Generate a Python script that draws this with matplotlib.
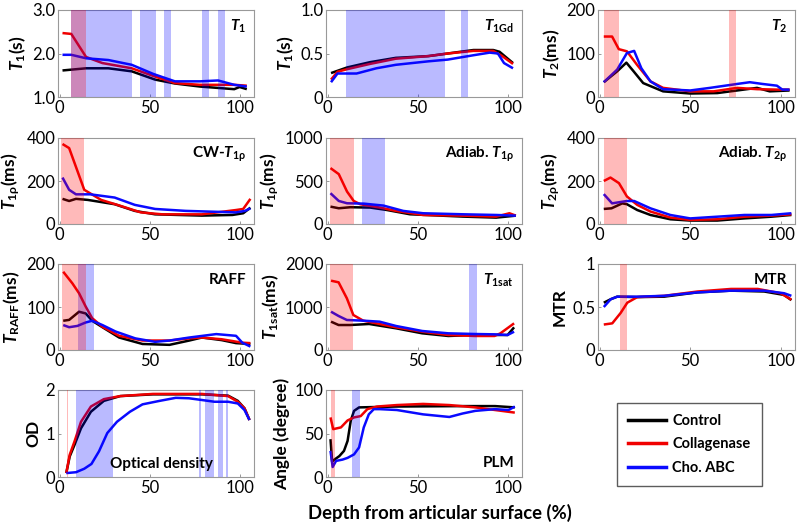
import matplotlib
matplotlib.use("Agg")
import matplotlib.pyplot as plt
from matplotlib.lines import Line2D

plt.rcParams['font.family'] = ['Lato', 'DejaVu Sans']
plt.rcParams['mathtext.fontset'] = 'custom'
plt.rcParams['mathtext.it'] = 'Lato:italic:bold'
plt.rcParams['mathtext.rm'] = 'Lato:bold'
plt.rcParams['mathtext.bf'] = 'Lato:bold'

SERIES = ["Control", "Collagenase", "Cho. ABC"]
COLORS = ["black", "#f00000", "#0a0aff"]

# ---------------- T1 ----------------
T1_CTRL_X = [1.5, 14.6, 27, 40, 53, 64, 78, 97, 100, 104]
T1_CTRL_Y = [1.61, 1.66, 1.66, 1.59, 1.40, 1.31, 1.24, 1.18, 1.23, 1.18]
T1_COLL_X = [1.5, 6.4, 14.6, 23.7, 40, 53, 64, 78, 97, 104]
T1_COLL_Y = [2.47, 2.45, 1.92, 1.78, 1.66, 1.47, 1.32, 1.28, 1.28, 1.26]
T1_CHO_X = [1.5, 6.4, 14.6, 27, 40, 52, 64, 78, 88, 97, 104]
T1_CHO_Y = [1.97, 1.97, 1.89, 1.85, 1.74, 1.53, 1.36, 1.36, 1.38, 1.28, 1.24]
T1_BLUE = [(6.4, 40.1), (44.7, 53.3), (57.8, 61.7), (79.2, 83.2), (88, 91.8)]
T1_RED = [(6.4, 14.6)]

# ---------------- T1Gd ----------------
T1GD_CTRL_X = [1.8, 10.8, 23.4, 37.8, 55.9, 66.7, 81, 92, 95.5, 103]
T1GD_CTRL_Y = [0.275, 0.34, 0.40, 0.45, 0.47, 0.50, 0.54, 0.54, 0.52, 0.39]
T1GD_COLL_X = [1.8, 5.4, 10.8, 23.4, 37.8, 55.9, 66.7, 81, 92, 97, 103]
T1GD_COLL_Y = [0.20, 0.29, 0.32, 0.38, 0.44, 0.47, 0.50, 0.53, 0.53, 0.47, 0.38]
T1GD_CHO_X = [1.8, 5.4, 16, 27, 37.8, 55.9, 66.7, 81, 90, 94.6, 98, 103]
T1GD_CHO_Y = [0.17, 0.27, 0.27, 0.33, 0.37, 0.41, 0.43, 0.48, 0.51, 0.50, 0.39, 0.33]
T1GD_BLUE = [(10.3, 65.2), (73.9, 77.8)]
T1GD_RED = []

# ---------------- T2 ----------------
T2_CTRL_X = [2.2, 9.6, 14.7, 18.7, 24, 35, 50, 65, 76, 87, 94, 105]
T2_CTRL_Y = [34, 59, 79, 59, 32, 13, 8, 9, 15, 21, 13, 15]
T2_COLL_X = [2.2, 6.8, 10.5, 15, 20.6, 28, 35, 50, 63, 76, 87, 98, 105]
T2_COLL_Y = [139, 139, 110, 105, 74, 36, 21, 13, 13, 21, 18, 17, 17]
T2_CHO_X = [2.2, 9.6, 15, 19, 23, 28, 35, 50, 61, 76, 83, 90, 98, 101, 105]
T2_CHO_Y = [34, 63, 101, 106, 66, 36, 18, 15, 21, 30, 34, 30, 26, 17, 17]
T2_BLUE = []
T2_RED = [(2.2, 10.5), (71.3, 75.4)]

# ---------------- CW-T1rho ----------------
CW_CTRL_X = [1.5, 5.2, 9, 15.6, 30.5, 41.7, 53, 79, 96, 102, 106]
CW_CTRL_Y = [117, 107, 117, 112, 92, 61, 45, 39, 42, 50, 76]
CW_COLL_X = [1.5, 5.2, 13.6, 23, 32, 45, 57, 79, 98, 102, 106]
CW_COLL_Y = [372, 353, 159, 112, 89, 54, 45, 45, 65, 70, 117]
CW_CHO_X = [1.5, 5.2, 9, 17, 30.5, 41.7, 53, 70, 98, 103, 106]
CW_CHO_Y = [216, 159, 138, 138, 123, 89, 70, 61, 54, 61, 73]
CW_BLUE = []
CW_RED = [(0.5, 13.3)]

# ---------------- Adiab. T1rho ----------------
AT1_CTRL_X = [1.5, 6.1, 12.5, 23.6, 32.8, 45.7, 75, 93.6, 104.6]
AT1_CTRL_Y = [202, 183, 195, 191, 163, 113, 86, 74, 97]
AT1_COLL_X = [1.5, 6.1, 10.7, 14.4, 18, 29, 38, 53, 75, 93.6, 101, 104.6]
AT1_COLL_Y = [650, 580, 377, 268, 230, 191, 152, 105, 97, 86, 125, 97]
AT1_CHO_X = [1.5, 6.1, 10.7, 20, 31, 42, 53, 75, 93.6, 104.6]
AT1_CHO_Y = [358, 268, 241, 237, 214, 152, 125, 113, 105, 97]
AT1_BLUE = [(19, 32)]
AT1_RED = [(1.5, 14.4)]

# ---------------- Adiab. T2rho ----------------
AT2_CTRL_X = [2.2, 6.5, 12.4, 15, 20.7, 28, 39, 50, 65, 80, 95, 106]
AT2_CTRL_Y = [70, 73, 96, 92, 65, 42, 22, 16, 16, 26, 34, 42]
AT2_COLL_X = [2.2, 5.9, 10.6, 15, 20.7, 28, 39, 50, 65, 80, 95, 106]
AT2_COLL_Y = [200, 216, 190, 128, 89, 58, 30, 19, 22, 34, 39, 45]
AT2_CHO_X = [2.2, 6.8, 15, 19, 28, 39, 50, 65, 80, 95, 106]
AT2_CHO_Y = [139, 96, 107, 107, 73, 42, 26, 34, 42, 42, 50]
AT2_BLUE = []
AT2_RED = [(2.2, 14.8)]

# ---------------- RAFF ----------------
RAFF_CTRL_X = [1.9, 5.2, 10.7, 14.4, 18, 23.7, 33, 46, 61, 72, 79, 90, 98, 106]
RAFF_CTRL_Y = [68, 70, 89, 85, 68, 53, 29, 14, 12, 22, 29, 23, 16, 14]
RAFF_COLL_X = [1.9, 7, 10.7, 14.4, 18, 23.7, 33, 46, 61, 72, 79, 90, 101.5, 106]
RAFF_COLL_Y = [182, 155, 132, 101, 74, 54, 33, 22, 22, 27, 29, 25, 17, 16]
RAFF_CHO_X = [1.9, 5.2, 9.8, 14.4, 18, 23.7, 31, 42, 53, 61, 72, 87, 98, 101.5, 106]
RAFF_CHO_Y = [58, 53, 56, 64, 68, 58, 43, 27, 19, 22, 29, 37, 33, 17, 8]
RAFF_BLUE = [(10.4, 19)]
RAFF_RED = [(1.5, 14.4)]

# ---------------- T1sat ----------------
T1S_CTRL_X = [1.8, 6, 12.4, 23, 38, 52.5, 67, 81.8, 92.7, 100, 103.6]
T1S_CTRL_Y = [659, 581, 581, 605, 504, 388, 326, 349, 349, 349, 527]
T1S_COLL_X = [1.8, 6, 10.6, 14.2, 19.7, 28.8, 38, 52.5, 67, 81.8, 92.7, 96, 103.6]
T1S_COLL_Y = [1612, 1574, 1202, 814, 682, 605, 527, 426, 349, 326, 326, 388, 620]
T1S_CHO_X = [1.8, 6, 10.6, 19.7, 28.8, 38, 52.5, 67, 81.8, 92.7, 100, 103.6]
T1S_CHO_Y = [891, 791, 698, 682, 659, 558, 442, 388, 372, 364, 349, 426]
T1S_BLUE = [(78.6, 82.7)]
T1S_RED = [(1.5, 14.2)]

# ---------------- MTR ----------------
MTR_CTRL_X = [2.2, 6, 9.6, 20.7, 35.6, 54, 72.6, 91, 102, 106]
MTR_CTRL_Y = [0.55, 0.59, 0.62, 0.615, 0.62, 0.67, 0.69, 0.68, 0.64, 0.58]
MTR_COLL_X = [2.2, 6.9, 11.5, 15.2, 20.7, 35.6, 54, 72.6, 87.4, 100, 106]
MTR_COLL_Y = [0.296, 0.31, 0.43, 0.55, 0.615, 0.63, 0.68, 0.71, 0.71, 0.66, 0.585]
MTR_CHO_X = [2.2, 6, 9.6, 20.7, 35.6, 54, 72.6, 91, 102, 106]
MTR_CHO_Y = [0.50, 0.59, 0.62, 0.62, 0.63, 0.67, 0.69, 0.69, 0.66, 0.63]
MTR_BLUE = []
MTR_RED = [(10.9, 14.8)]

# ---------------- OD ----------------
OD_CTRL_X = [3.6, 5.5, 8.2, 11.8, 17.3, 24.5, 33.6, 51.8, 79, 93.6, 99, 102.7, 105.5]
OD_CTRL_Y = [0.09, 0.47, 0.74, 1.12, 1.50, 1.75, 1.86, 1.90, 1.90, 1.87, 1.75, 1.58, 1.31]
OD_COLL_X = [3.6, 5.5, 8.2, 11.8, 17.3, 24.5, 33.6, 51.8, 79, 93.6, 99, 102.7, 105.5]
OD_COLL_Y = [0.09, 0.51, 0.82, 1.27, 1.62, 1.79, 1.86, 1.91, 1.91, 1.86, 1.73, 1.58, 1.31]
OD_CHO_X = [3.6, 9, 13.6, 17.6, 21.8, 26.4, 31.8, 39, 46, 55.5, 64.5, 71.8, 79, 86, 93.6, 99, 102.7, 105.5]
OD_CHO_Y = [0.09, 0.11, 0.19, 0.30, 0.59, 1.01, 1.27, 1.50, 1.67, 1.75, 1.82, 1.81, 1.77, 1.73, 1.73, 1.69, 1.54, 1.31]
OD_BLUE = [(9, 29.5), (77.6, 78.4), (80.5, 85.8), (87.8, 90.5), (92.4, 93.8)]
OD_RED = [(4.0, 4.5)]

# ---------------- PLM ----------------
PLM_CTRL_X = [1.5, 2.4, 3.7, 6.4, 9, 11, 12.8, 14.6, 17.4, 38.4, 75, 93, 104]
PLM_CTRL_Y = [43.5, 17.7, 20, 24, 30, 41.5, 65, 76, 80, 81, 81.5, 81.5, 80]
PLM_COLL_X = [1.5, 3, 7.3, 11, 14.6, 18.3, 22, 27.4, 38.4, 53, 67.6, 82, 93, 104]
PLM_COLL_Y = [68.5, 55, 57, 65, 68.5, 70, 78, 81, 82.7, 84, 82.7, 80, 77, 74]
PLM_CHO_X = [1.5, 2.7, 4.6, 8.2, 11, 14.6, 17.4, 20, 22.8, 25.6, 29, 38.4, 53, 67.6, 75, 82, 93, 100.5, 104]
PLM_CHO_Y = [30, 11.5, 18.5, 20, 22, 26, 34, 57, 72, 78, 78, 77, 72, 69, 73, 76, 78, 77, 81]
PLM_BLUE = [(13.7, 17.9)]
PLM_RED = [(1.8, 4.2)]

X_TICKS = [0, 50, 100]

W, H = 800, 527
fig = plt.figure(figsize=(W / 100, H / 100), dpi=100)

COLS = [(58, 254), (326, 522), (598, 795)]
ROWS = [(10, 97), (138, 224), (264, 350), (390, 477)]


def make_ax(r, c):
    l, rr = COLS[c]
    t, b = ROWS[r]
    return fig.add_axes([l / W, 1 - b / H, (rr - l) / W, (b - t) / H])


def panel(r, c, xs, ys, blue, red, ylim, yticks, yticklabels, ylabel, title,
          tpos=(0.96, 0.81), tha='right'):
    ax = make_ax(r, c)
    for x, y, col in zip(xs, ys, COLORS):
        ax.plot(x, y, color=col, lw=1.8, zorder=2, solid_capstyle='butt')
    for a, b in blue:
        ax.axvspan(a, b, color='#0000ff', alpha=0.27, lw=0, zorder=3)
    for a, b in red:
        ax.axvspan(a, b, color='#ff0000', alpha=0.27, lw=0, zorder=3)
    ax.set_xlim(-1, 108)
    ax.set_ylim(*ylim)
    ax.set_xticks(X_TICKS)
    ax.set_xticklabels([str(v) for v in X_TICKS])
    ax.set_yticks(yticks)
    ax.set_yticklabels(yticklabels)
    ax.tick_params(direction='in', length=2.5, width=0.6, color='#888888',
                   labelsize=12, pad=2, top=False, right=False)
    for s in ax.spines.values():
        s.set_color('#999999')
        s.set_linewidth(0.8)
    ax.set_ylabel(ylabel, fontsize=12.5, fontweight='bold', labelpad=3)
    ax.text(tpos[0], tpos[1], title, transform=ax.transAxes, ha=tha, va='center',
            fontsize=11, fontweight='bold', zorder=5)
    return ax


panel(0, 0, [T1_CTRL_X, T1_COLL_X, T1_CHO_X], [T1_CTRL_Y, T1_COLL_Y, T1_CHO_Y],
      T1_BLUE, T1_RED, (1.0, 3.0), [1.0, 2.0, 3.0], ['1.0', '2.0', '3.0'],
      r'$T_{\mathrm{1}}$(s)', r'$T_{\mathrm{1}}$')
panel(0, 1, [T1GD_CTRL_X, T1GD_COLL_X, T1GD_CHO_X], [T1GD_CTRL_Y, T1GD_COLL_Y, T1GD_CHO_Y],
      T1GD_BLUE, T1GD_RED, (0, 1.0), [0, 0.5, 1.0], ['0', '0.5', '1.0'],
      r'$T_{\mathrm{1}}$(s)', r'$T_{\mathrm{1Gd}}$')
panel(0, 2, [T2_CTRL_X, T2_COLL_X, T2_CHO_X], [T2_CTRL_Y, T2_COLL_Y, T2_CHO_Y],
      T2_BLUE, T2_RED, (0, 200), [0, 100, 200], ['0', '100', '200'],
      r'$T_{\mathrm{2}}$(ms)', r'$T_{\mathrm{2}}$')
panel(1, 0, [CW_CTRL_X, CW_COLL_X, CW_CHO_X], [CW_CTRL_Y, CW_COLL_Y, CW_CHO_Y],
      CW_BLUE, CW_RED, (0, 400), [0, 200, 400], ['0', '200', '400'],
      r'$T_{\mathrm{1\rho}}$(ms)', r'CW-$T_{\mathrm{1\rho}}$')
panel(1, 1, [AT1_CTRL_X, AT1_COLL_X, AT1_CHO_X], [AT1_CTRL_Y, AT1_COLL_Y, AT1_CHO_Y],
      AT1_BLUE, AT1_RED, (0, 1000), [0, 500, 1000], ['0', '500', '1000'],
      r'$T_{\mathrm{1\rho}}$(ms)', r'Adiab. $T_{\mathrm{1\rho}}$')
panel(1, 2, [AT2_CTRL_X, AT2_COLL_X, AT2_CHO_X], [AT2_CTRL_Y, AT2_COLL_Y, AT2_CHO_Y],
      AT2_BLUE, AT2_RED, (0, 400), [0, 200, 400], ['0', '200', '400'],
      r'$T_{\mathrm{2\rho}}$(ms)', r'Adiab. $T_{\mathrm{2\rho}}$')
panel(2, 0, [RAFF_CTRL_X, RAFF_COLL_X, RAFF_CHO_X], [RAFF_CTRL_Y, RAFF_COLL_Y, RAFF_CHO_Y],
      RAFF_BLUE, RAFF_RED, (0, 200), [0, 100, 200], ['0', '100', '200'],
      r'$T_{\mathrm{RAFF}}$(ms)', 'RAFF')
panel(2, 1, [T1S_CTRL_X, T1S_COLL_X, T1S_CHO_X], [T1S_CTRL_Y, T1S_COLL_Y, T1S_CHO_Y],
      T1S_BLUE, T1S_RED, (0, 2000), [0, 1000, 2000], ['0', '1000', '2000'],
      r'$T_{\mathrm{1sat}}$(ms)', r'$T_{\mathrm{1sat}}$')
panel(2, 2, [MTR_CTRL_X, MTR_COLL_X, MTR_CHO_X], [MTR_CTRL_Y, MTR_COLL_Y, MTR_CHO_Y],
      MTR_BLUE, MTR_RED, (0, 1), [0, 0.5, 1], ['0', '0.5', '1'],
      'MTR', 'MTR')
panel(3, 0, [OD_CTRL_X, OD_COLL_X, OD_CHO_X], [OD_CTRL_Y, OD_COLL_Y, OD_CHO_Y],
      OD_BLUE, OD_RED, (0, 2), [0, 1, 2], ['0', '1', '2'],
      'OD', 'Optical density', tpos=(0.53, 0.15), tha='center')
panel(3, 1, [PLM_CTRL_X, PLM_COLL_X, PLM_CHO_X], [PLM_CTRL_Y, PLM_COLL_Y, PLM_CHO_Y],
      PLM_BLUE, PLM_RED, (0, 100), [0, 50, 100], ['0', '50', '100'],
      'Angle (degree)', 'PLM', tpos=(0.96, 0.16))

fig.text(440 / W, 1 - 513 / H, 'Depth from articular surface (%)', ha='center', va='center',
         fontsize=13.3, fontweight='bold')

handles = [Line2D([], [], color=c, lw=2.5) for c in COLORS]
leg = fig.legend(handles, SERIES, loc='upper left', bbox_to_anchor=(617 / W, 1 - 403 / H),
                 borderaxespad=0, frameon=True, fancybox=False, edgecolor='#333333',
                 prop={'weight': 'bold', 'size': 10.5}, handlelength=2.6, handletextpad=0.45,
                 labelspacing=0.65, borderpad=0.75)
leg.get_frame().set_linewidth(1.0)

fig.savefig('out.png', dpi=100)
